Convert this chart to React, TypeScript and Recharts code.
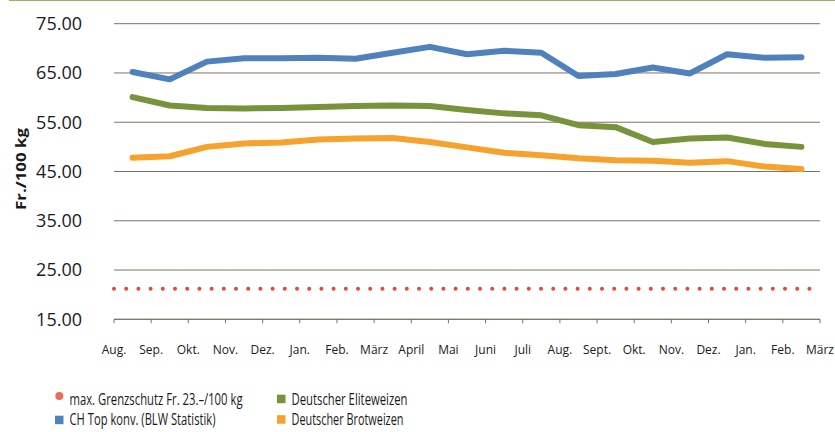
import {
  LineChart,
  Line,
  XAxis,
  YAxis,
  CartesianGrid,
  ReferenceLine,
} from "recharts";

const months = [
  "Aug.", "Sep.", "Okt.", "Nov.", "Dez.", "Jan.", "Feb.", "März", "April", "Mai",
  "Juni", "Juli", "Aug.", "Sept.", "Okt.", "Nov.", "Dez.", "Jan.", "Feb.", "März",
];

const chTop = [
  65.2, 63.7, 67.3, 68.0, 68.0, 68.1, 67.9, 69.1, 70.3, 68.8,
  69.5, 69.1, 64.4, 64.8, 66.1, 64.9, 68.8, 68.1, 68.2,
];
const eliteweizen = [
  60.1, 58.4, 57.9, 57.8, 57.9, 58.1, 58.3, 58.4, 58.3, 57.5,
  56.8, 56.4, 54.4, 54.0, 51.0, 51.7, 51.9, 50.6, 50.0,
];
const brotweizen = [
  47.8, 48.1, 50.0, 50.7, 50.9, 51.5, 51.7, 51.8, 51.0, 49.9,
  48.8, 48.3, 47.7, 47.3, 47.2, 46.8, 47.1, 46.0, 45.5,
];
const grenzschutz = 21.2;
const yTicks = [15, 25, 35, 45, 55, 65, 75];

const data = chTop.map((v, i) => ({
  pos: i + 0.5,
  chTop: v,
  elite: eliteweizen[i],
  brot: brotweizen[i],
}));

const font = "'Open Sans', sans-serif";
const gridColor = "#7a7562";

// the original uses a condensed face, so legend text is squeezed horizontally
const squeeze = 0.72;
const legendItems = [
  { label: "max. Grenzschutz Fr. 23.–/100 kg", color: "#EA6B57", round: true, x: 55, y: 396, w: 173 },
  { label: "CH Top konv. (BLW Statistik)", color: "#4F81BD", round: false, x: 55, y: 420, w: 146 },
  { label: "Deutscher Eliteweizen", color: "#77933C", round: false, x: 277, y: 399, w: 116 },
  { label: "Deutscher Brotweizen", color: "#F6A22D", round: false, x: 277, y: 419.5, w: 112 },
];
const legendBaselines = [405, 425, 405, 425];

export default function App() {
  return (
    <div
      style={{
        position: "absolute",
        left: 0,
        top: 0,
        width: 835,
        height: 432,
        background: "#fff",
        fontFamily: font,
      }}
    >
      <div
        style={{
          position: "absolute",
          left: 9,
          top: 0,
          width: 826,
          height: 1,
          background: "#9BB06A",
        }}
      />

      <LineChart
        width={835}
        height={432}
        data={data}
        margin={{ top: 23.7, right: 15, left: 0, bottom: 82.7 }}
      >
        <CartesianGrid vertical={false} stroke={gridColor} strokeWidth={1} />
        <XAxis
          type="number"
          dataKey="pos"
          domain={[0, 19]}
          ticks={months.map((_, i) => i)}
          tickFormatter={(i: number) => months[i]}
          interval={0}
          height={30}
          stroke={gridColor}
          tickSize={4}
          tickMargin={22}
          tick={{ fontSize: 12, fill: "#1a1a1a", fontFamily: font }}
        />
        <YAxis
          domain={[15, 75]}
          ticks={yTicks}
          tickFormatter={(v: number) => v.toFixed(2)}
          width={114}
          axisLine={false}
          tickLine={false}
          tickSize={0}
          tickMargin={32}
          tick={{ fontSize: 18, fill: "#1a1a1a", fontFamily: font }}
        />
        <ReferenceLine
          y={grenzschutz}
          stroke="#E8453C"
          strokeWidth={4}
          strokeDasharray="0 12.2"
          strokeLinecap="round"
        />
        <Line
          type="linear"
          dataKey="brot"
          stroke="#F6A22D"
          strokeWidth={6}
          strokeLinecap="round"
          strokeLinejoin="round"
          dot={false}
          isAnimationActive={false}
        />
        <Line
          type="linear"
          dataKey="elite"
          stroke="#77933C"
          strokeWidth={6}
          strokeLinecap="round"
          strokeLinejoin="round"
          dot={false}
          isAnimationActive={false}
        />
        <Line
          type="linear"
          dataKey="chTop"
          stroke="#4F81BD"
          strokeWidth={6}
          strokeLinecap="round"
          strokeLinejoin="round"
          dot={false}
          isAnimationActive={false}
        />
      </LineChart>

      <svg
        width={835}
        height={432}
        style={{ position: "absolute", left: 0, top: 0, pointerEvents: "none" }}
      >
        <text
          x={25.5}
          y={169}
          transform="rotate(-90 25.5 169)"
          textAnchor="middle"
          fontWeight="bold"
          fontSize={15}
          fill="#1a1a1a"
          fontFamily={font}
          textLength={82}
          lengthAdjust="spacingAndGlyphs"
        >
          Fr./100 kg
        </text>

        {legendItems.map((item, i) =>
          <g key={item.label}>
            {item.round ? (
              <circle cx={item.x + 4.3} cy={item.y} r={4} fill={item.color} />
            ) : (
              <rect x={item.x} y={item.y - 4.3} width={8.5} height={8.5} fill={item.color} />
            )}
            <g transform={`translate(${item.x + 14.5} ${legendBaselines[i]}) scale(${squeeze} 1)`}>
              <text
                x={0}
                y={0}
                fontSize={16}
                fill="#1a1a1a"
                fontFamily={font}
                textLength={item.w / squeeze}
                lengthAdjust="spacingAndGlyphs"
              >
                {item.label}
              </text>
            </g>
          </g>
        )}
      </svg>
    </div>
  );
}
